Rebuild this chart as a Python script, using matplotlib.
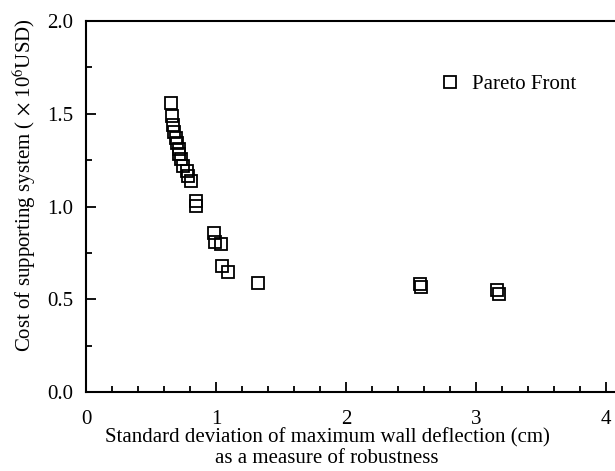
import matplotlib
matplotlib.use("Agg")
import matplotlib.pyplot as plt
from matplotlib.ticker import MultipleLocator, FormatStrFormatter

plt.rcParams['font.family'] = ['Liberation Serif', 'DejaVu Serif']
plt.rcParams['mathtext.fontset'] = 'stix'

# Pareto front: robustness (std of max wall deflection, cm) vs cost (x10^6 USD)
robustness = [0.654, 0.66, 0.67, 0.677, 0.69, 0.70, 0.715, 0.715, 0.73, 0.746,
              0.775, 0.785, 0.81, 0.846, 0.846, 0.985, 0.99, 1.04, 1.045, 1.09,
              1.32, 2.57, 2.58, 3.16, 3.18]
cost = [1.56, 1.49, 1.44, 1.40, 1.37, 1.344, 1.31, 1.285, 1.258, 1.22,
        1.19, 1.167, 1.14, 1.03, 1.005, 0.855, 0.81, 0.80, 0.677, 0.645,
        0.59, 0.58, 0.565, 0.548, 0.527]

fig = plt.figure(figsize=(6.15, 4.71), dpi=100)
W, H = 615, 471
ax = fig.add_axes([86 / W, 79 / H, 546 / W, 371 / H])

ax.plot(robustness, cost, linestyle='none', marker='s', markersize=8.5,
        markerfacecolor='none', markeredgecolor='black', markeredgewidth=1.3,
        label='Pareto Front')

ax.set_xlim(0, 4.2)
ax.set_ylim(0, 2.0)
ax.xaxis.set_major_locator(MultipleLocator(1))
ax.xaxis.set_minor_locator(MultipleLocator(0.2))
ax.yaxis.set_major_locator(MultipleLocator(0.5))
ax.yaxis.set_minor_locator(MultipleLocator(0.25))
ax.yaxis.set_major_formatter(FormatStrFormatter('%.1f'))

ax.spines['right'].set_visible(False)
for s in ['left', 'bottom', 'top']:
    ax.spines[s].set_linewidth(1.5)
ax.tick_params(which='both', direction='in', top=False, right=False,
               labelsize=15, width=1.3)
ax.tick_params(which='major', length=7)
ax.tick_params(which='minor', length=4.5)
ax.tick_params(axis='x', which='major', pad=13)
ax.tick_params(axis='y', which='major', pad=9)

ax.set_xlabel('Standard deviation of maximum wall deflection (cm)\nas a measure of robustness',
              fontsize=15, linespacing=1.1)
ax.xaxis.set_label_coords(241 / 546, -36 / 371)
ax.set_ylabel('Cost of supporting system ( $\\times$ 10$^6$USD)', fontsize=15)
ax.yaxis.set_label_coords(-48 / 546, 207 / 371)

ax.legend(loc='center left', bbox_to_anchor=(428 / W, 1 - 84 / H),
          bbox_transform=fig.transFigure, frameon=False, fontsize=15,
          handletextpad=0.5, borderpad=0, handlelength=1.1)

fig.savefig('out.png', dpi=100)
